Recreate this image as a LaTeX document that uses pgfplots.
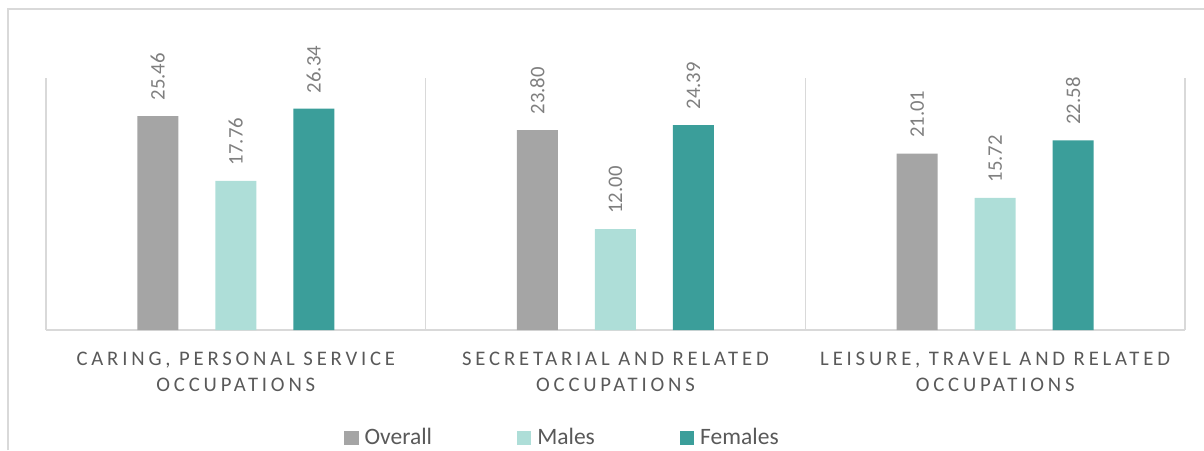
\documentclass[border=0pt]{standalone}
\usepackage{pgfplots}
\pgfplotsset{compat=1.18}
\usepackage{fontspec}
\setmainfont{Carlito}
\newfontfamily\catfont[LetterSpace=18.5]{Carlito}
\definecolor{cOverall}{HTML}{A5A5A5}
\definecolor{cMales}{HTML}{AEDED8}
\definecolor{cFemales}{HTML}{3B9E9A}
\definecolor{gridc}{HTML}{D9D9D9}
\definecolor{labc}{HTML}{595959}
\definecolor{valc}{HTML}{7F7F7F}
\begin{document}
\begin{tikzpicture}[x=1pt,y=1pt]
\useasboundingbox (0,0) rectangle (1204,450);
\draw[gridc, line width=1.2pt] (8,0) -- (8,441) -- (1204,441);
\begin{axis}[
 at={(46pt,120pt)}, anchor=south west,
 scale only axis, width=1139pt, height=252pt,
 xmin=-0.5, xmax=2.5, ymin=0, ymax=30,
 ybar=37pt, bar width=41pt,
 axis line style={draw=none},
 xtick={0,1,2},
 xticklabels={{CARING, PERSONAL SERVICE\\OCCUPATIONS},{SECRETARIAL AND RELATED\\OCCUPATIONS},{LEISURE, TRAVEL AND RELATED\\OCCUPATIONS}},
 xticklabel style={align=center, font=\catfont\fontsize{20.7}{26.7}\selectfont, text=labc, inner sep=0pt, yshift=-21.5pt},
 major tick length=0pt,
 extra x ticks={-0.5,0.5,1.5,2.5}, extra x tick labels={},
 extra x tick style={grid=major},
 ytick={0}, yticklabels={}, ymajorgrids,
 major grid style={draw=gridc, line width=1.2pt},
 clip=false,
 nodes near coords,
 every node near coord/.append style={rotate=90, anchor=west, font=\fontsize{20.7}{24}\selectfont, text=valc, inner xsep=15.5pt, inner ysep=0pt},
 /pgf/number format/.cd, fixed, fixed zerofill, precision=2, assume math mode=true, /pgfplots/.cd,
 legend columns=3,
 legend style={at={(0.4526,-0.424)}, anchor=center, draw=none, fill=none, font=\fontsize{23.5}{28}\selectfont, text=labc, inner sep=0pt, nodes={inner sep=0pt},
   /tikz/every odd column/.append style={column sep=6pt},
   /tikz/every even column/.append style={column sep=85pt}},
 every axis plot post/.append style={legend image code/.code={\fill[##1] (0pt,-8pt) rectangle (14.3pt,6.3pt);}},
]
\addplot[fill=cOverall, draw=none] coordinates {(0,25.46) (1,23.80) (2,21.01)};
\addplot[fill=cMales, draw=none] coordinates {(0,17.76) (1,12.00) (2,15.72)};
\addplot[fill=cFemales, draw=none] coordinates {(0,26.34) (1,24.39) (2,22.58)};
\legend{Overall, Males, Females}
\end{axis}
\end{tikzpicture}
\end{document}
